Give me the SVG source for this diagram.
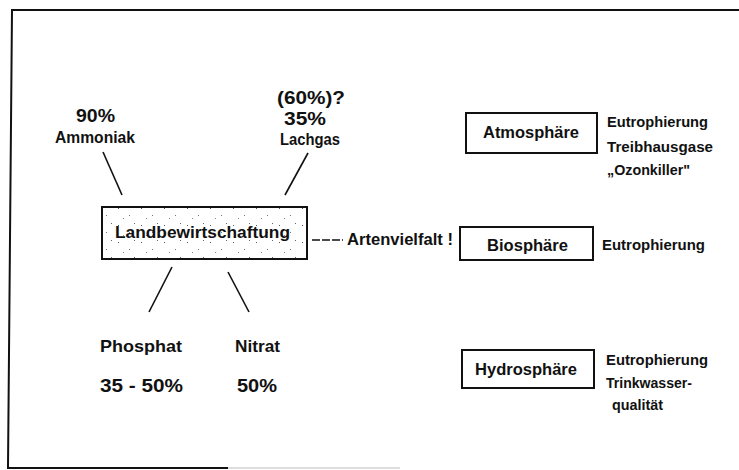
<svg xmlns="http://www.w3.org/2000/svg" width="739" height="470" viewBox="0 0 739 470">
<defs>
<pattern id="dots" width="23" height="17" patternUnits="userSpaceOnUse">
<rect x="3" y="4" width="1" height="1" fill="#555"/>
<rect x="14" y="11" width="1" height="1" fill="#777"/>
<rect x="19" y="2" width="1" height="1" fill="#666"/>
<rect x="8" y="14" width="1" height="1" fill="#888"/>
</pattern>
</defs>
<style>
text{font-family:"Liberation Sans",Arial,sans-serif;font-weight:bold;fill:#111}
.big{font-size:19px}
.mid{font-size:17px}
.sm{font-size:14px}
.box{fill:#fff;stroke:#111;stroke-width:2}
.ln{stroke:#111;stroke-width:1.6;fill:none}
</style>
<rect width="739" height="470" fill="#fff"/>
<g id="frame">
<polyline points="739,10 12,10 8,468 228,468" fill="none" stroke="#111" stroke-width="2"/>
<line x1="228" y1="468" x2="400" y2="468" stroke="#bbb" stroke-width="1"/>
</g>
<g id="connectors">
<line class="ln" x1="103" y1="152" x2="122" y2="195"/>
<line class="ln" x1="308" y1="153" x2="285" y2="195"/>
<line class="ln" x1="172" y1="267" x2="149" y2="312"/>
<line class="ln" x1="228" y1="272" x2="249" y2="312"/>
<line class="ln" x1="312" y1="240" x2="343" y2="240" stroke-dasharray="8,2"/>
</g>
<g id="ammoniak">
<text class="big" x="76" y="122" textLength="39" lengthAdjust="spacingAndGlyphs">90%</text>
<text class="mid" x="55" y="143" textLength="80" lengthAdjust="spacingAndGlyphs">Ammoniak</text>
</g>
<g id="lachgas">
<text class="big" x="277" y="104" textLength="68" lengthAdjust="spacingAndGlyphs">(60%)?</text>
<text class="big" x="284" y="125" textLength="42" lengthAdjust="spacingAndGlyphs">35%</text>
<text class="mid" x="280" y="145" textLength="60" lengthAdjust="spacingAndGlyphs">Lachgas</text>
</g>
<g id="landbewirtschaftung">
<rect class="box" x="102" y="207" width="205" height="52"/>
<rect x="103" y="208" width="203" height="50" fill="url(#dots)"/>
<text class="mid" x="115" y="238" textLength="175" lengthAdjust="spacingAndGlyphs">Landbewirtschaftung</text>
</g>
<g id="artenvielfalt">
<text class="mid" x="347" y="245" textLength="106" lengthAdjust="spacingAndGlyphs">Artenvielfalt !</text>
</g>
<g id="phosphat">
<text class="mid" x="100" y="352" textLength="82" lengthAdjust="spacingAndGlyphs">Phosphat</text>
<text class="big" x="100" y="392" textLength="83" lengthAdjust="spacingAndGlyphs">35 - 50%</text>
</g>
<g id="nitrat">
<text class="mid" x="235" y="352" textLength="45" lengthAdjust="spacingAndGlyphs">Nitrat</text>
<text class="big" x="237" y="392" textLength="40" lengthAdjust="spacingAndGlyphs">50%</text>
</g>
<g id="atmosphaere">
<rect class="box" x="466" y="113" width="131" height="40"/>
<text class="mid" x="483" y="138" textLength="96" lengthAdjust="spacingAndGlyphs">Atmosphäre</text>
<text class="sm" x="607" y="127" textLength="101" lengthAdjust="spacingAndGlyphs">Eutrophierung</text>
<text class="sm" x="607" y="152" textLength="106" lengthAdjust="spacingAndGlyphs">Treibhausgase</text>
<text class="sm" x="607" y="175" textLength="83" lengthAdjust="spacingAndGlyphs">„Ozonkiller"</text>
</g>
<g id="biosphaere">
<rect class="box" x="460" y="227" width="133" height="33"/>
<text class="mid" x="487" y="251" textLength="81" lengthAdjust="spacingAndGlyphs">Biosphäre</text>
<text class="sm" x="602" y="250" textLength="103" lengthAdjust="spacingAndGlyphs">Eutrophierung</text>
</g>
<g id="hydrosphaere">
<rect class="box" x="462" y="350" width="132" height="38"/>
<text class="mid" x="475" y="375" textLength="102" lengthAdjust="spacingAndGlyphs">Hydrosphäre</text>
<text class="sm" x="606" y="365" textLength="102" lengthAdjust="spacingAndGlyphs">Eutrophierung</text>
<text class="sm" x="606" y="388" textLength="86" lengthAdjust="spacingAndGlyphs">Trinkwasser-</text>
<text class="sm" x="612" y="410" textLength="51" lengthAdjust="spacingAndGlyphs">qualität</text>
</g>
</svg>
